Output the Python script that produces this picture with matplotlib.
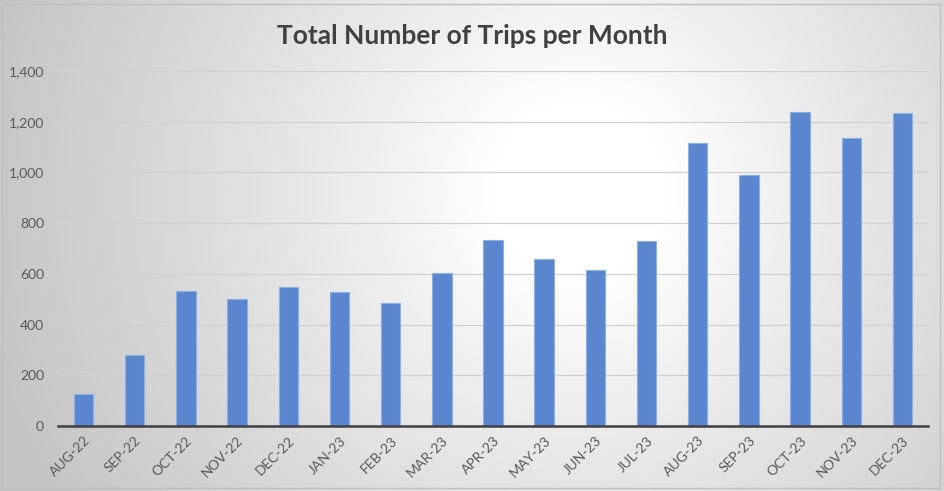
import numpy as np
import matplotlib
matplotlib.use("Agg")
import matplotlib.pyplot as plt
from matplotlib.patches import Rectangle
from matplotlib.ticker import FuncFormatter

# monthly trip counts
months = ["AUG-22", "SEP-22", "OCT-22", "NOV-22", "DEC-22", "JAN-23", "FEB-23",
          "MAR-23", "APR-23", "MAY-23", "JUN-23", "JUL-23", "AUG-23", "SEP-23",
          "OCT-23", "NOV-23", "DEC-23"]
trips = [126, 281, 533, 502, 547, 528, 486, 604, 732, 659, 616, 729,
         1115, 988, 1239, 1134, 1233]
yticks = [0, 200, 400, 600, 800, 1000, 1200, 1400]

plt.rcParams['font.family'] = ['Lato', 'DejaVu Sans']

W, H = 944, 491
fig = plt.figure(figsize=(W / 100, H / 100), dpi=100)

# radial gradient background (white in the middle, grey towards the edges)
bg = fig.add_axes([0, 0, 1, 1], zorder=0)
xx, yy = np.meshgrid(np.linspace(0, W, 472), np.linspace(0, H, 246))
r = np.sqrt((xx - 580) ** 2 + (yy - 190) ** 2)
shade = 1.0 - 0.23 * np.clip((r - 90) / 520, 0, 1) ** 0.9
bg.imshow(np.dstack([shade] * 3), extent=[0, 1, 0, 1], origin='upper', aspect='auto')
bg.set_xlim(0, 1)
bg.set_ylim(0, 1)
bg.axis('off')
bg.add_patch(Rectangle((0.002, 0.006), 0.994, 0.986, fill=False,
                       edgecolor='#bfbfbf', linewidth=1.0))

ax = fig.add_axes([58 / W, 65 / H, 870 / W, 355 / H], zorder=1)
ax.patch.set_alpha(0)

x = np.arange(len(months))
ax.bar(x, trips, width=0.38, color='#5a86cf', edgecolor='#8cb0e3',
       linewidth=0.8, zorder=3)

ax.set_xlim(-0.5, len(months) - 0.5)
ax.set_ylim(0, 1400)
ax.set_yticks(yticks)
ax.yaxis.set_major_formatter(FuncFormatter(lambda v, p: f"{int(v):,}"))
ax.grid(axis='y', color='#d0d0d0', linewidth=0.9, zorder=0)

ax.set_xticks(x)
ax.set_xticklabels(months, rotation=45, ha='right', rotation_mode='anchor')
ax.tick_params(axis='both', length=0, labelsize=10, colors='#595959')
ax.tick_params(axis='x', pad=6)
ax.tick_params(axis='y', pad=10)

for side in ['top', 'right', 'left']:
    ax.spines[side].set_visible(False)
ax.spines['bottom'].set_color('#404040')
ax.spines['bottom'].set_linewidth(1.8)
ax.spines['bottom'].set_zorder(4)

fig.text(0.5, 1 - 36 / H, "Total Number of Trips per Month", ha='center', va='center',
         fontsize=19, fontweight='bold', color='#404040')

plt.savefig("out.png", dpi=100)
